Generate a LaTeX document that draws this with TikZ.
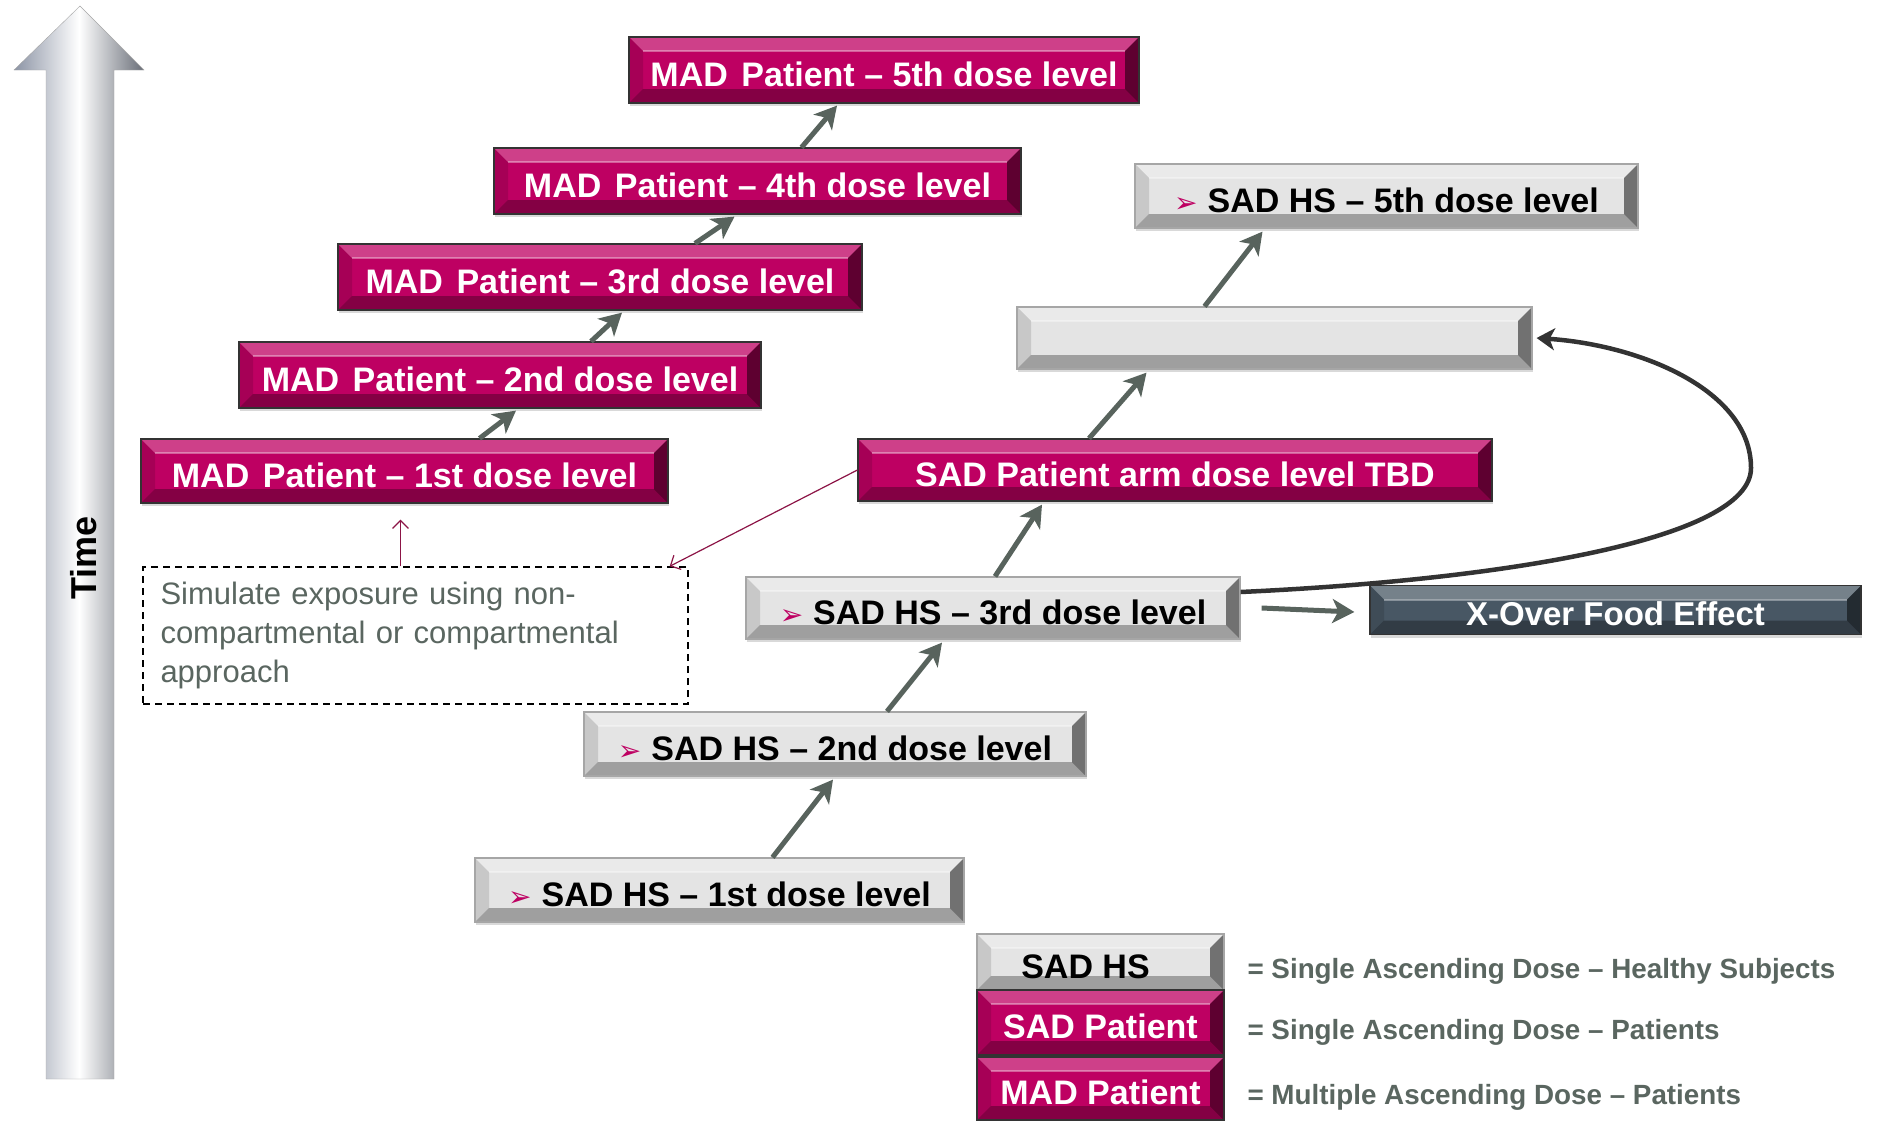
\documentclass[tikz,border=0pt]{standalone}
\usepackage{fontspec}
\setmainfont{Liberation Sans}
\newfontfamily\symfont{DejaVu Sans}
\usepackage{xcolor}
\usepackage{tikz}
\usetikzlibrary{shapes,arrows,arrows.meta,positioning,shadows}
\definecolor{madred}{RGB}{190, 0, 98}
\definecolor{hsgray}{RGB}{228, 228, 228}
\definecolor{xslate}{RGB}{72, 87, 100}
\definecolor{arrgray}{RGB}{88, 99, 93}
\definecolor{notegray}{RGB}{90, 102, 96}
\definecolor{linkred}{RGB}{140, 20, 70}
\definecolor{timeleft}{RGB}{140, 148, 165}
\definecolor{timeright}{RGB}{105, 110, 120}
\newcommand{\boxfont}{\fontsize{34}{38}\selectfont\bfseries}
\newcommand{\hsmark}{{\symfont\fontsize{28}{28}\selectfont\color{madred}➢}\hspace{10pt}}
\tikzstyle{bevel} = [path picture={
    \fill[white, opacity=0.25] (path picture bounding box.north west) -- (path picture bounding box.north east) -- ([xshift=-14pt,yshift=-14pt]path picture bounding box.north east) -- ([xshift=14pt,yshift=-14pt]path picture bounding box.north west) -- cycle;
    \fill[black, opacity=0.12] (path picture bounding box.north west) -- ([xshift=14pt,yshift=-14pt]path picture bounding box.north west) -- ([xshift=14pt,yshift=14pt]path picture bounding box.south west) -- (path picture bounding box.south west) -- cycle;
    \fill[black, opacity=0.5] (path picture bounding box.north east) -- (path picture bounding box.south east) -- ([xshift=-14pt,yshift=14pt]path picture bounding box.south east) -- ([xshift=-14pt,yshift=-14pt]path picture bounding box.north east) -- cycle;
    \fill[black, opacity=0.3] (path picture bounding box.south west) -- ([xshift=14pt,yshift=14pt]path picture bounding box.south west) -- ([xshift=-14pt,yshift=14pt]path picture bounding box.south east) -- (path picture bounding box.south east) -- cycle;
    \draw[white, opacity=0.35, line width=2pt] ([xshift=14pt,yshift=-14pt]path picture bounding box.north west) -- ([xshift=-14pt,yshift=-14pt]path picture bounding box.north east);
}]
\tikzstyle{madbox} = [rectangle, draw=black!80, line width=1.2pt, fill=madred, text=white, font=\boxfont, text height=32pt, text depth=0pt, minimum height=66pt, inner sep=0pt, bevel, drop shadow={opacity=0.3, shadow xshift=1pt, shadow yshift=-3pt}]
\tikzstyle{hsbox} = [madbox, draw=gray!70, fill=hsgray, text=black, minimum height=64pt]
\tikzstyle{foodbox} = [madbox, fill=xslate, minimum height=49pt, text height=31pt, font=\fontsize{33}{36}\selectfont\bfseries]
\tikzstyle{keytext} = [anchor=west, text=notegray, font=\fontsize{27.8}{32}\selectfont\bfseries]
\tikzstyle{line} = [draw=arrgray, line width=5pt, -{Stealth[length=22pt, width=24pt, inset=6pt]}]
\tikzstyle{link} = [draw=linkred, line width=1.2pt, -{Straight Barb[length=8pt, width=16pt]}]

\begin{document}
\begin{tikzpicture}[x=1pt, y=-1pt]
    \useasboundingbox (0,0) rectangle (1880,1120);

    \shade [left color=timeleft, right color=timeright, middle color=white, draw=gray!70] (46,1079) -- (46,70) -- (14,70) -- (80,6) -- (144,70) -- (114,70) -- (114,1079) -- cycle;
    \node [rotate=90, font=\fontsize{36}{40}\selectfont\bfseries] (timelbl) at (84,558) {Time};

    \node [madbox, minimum width=510pt] (mad5) at (884,70) {MAD\hspace{.4em}Patient – 5th dose level};
    \node [madbox, minimum width=527pt] (mad4) at (757.5,181) {MAD\hspace{.4em}Patient – 4th dose level};
    \node [madbox, minimum width=524pt] (mad3) at (600,277) {MAD\hspace{.4em}Patient – 3rd dose level};
    \node [madbox, minimum width=522pt] (mad2) at (500,375) {MAD\hspace{.4em}Patient – 2nd dose level};
    \node [madbox, minimum width=527pt, minimum height=64pt] (mad1) at (404.5,471) {MAD\hspace{.4em}Patient – 1st dose level};

    \node [hsbox, minimum width=503pt] (sad5) at (1386.5,196) {\hsmark SAD HS – 5th dose level};
    \node [hsbox, minimum width=515pt, minimum height=62pt] (sadnext) at (1274.5,338) {};
    \node [madbox, minimum width=634pt, minimum height=62pt] (sadpat) at (1175,470) {SAD Patient arm dose level TBD};
    \node [hsbox, minimum width=494pt, minimum height=62pt] (sad3) at (993,608) {\hsmark SAD HS – 3rd dose level};
    \node [foodbox, minimum width=491pt] (food) at (1615.5,610) {X-Over Food Effect};
    \node [hsbox, minimum width=502pt] (sad2) at (835,744) {\hsmark SAD HS – 2nd dose level};
    \node [hsbox, minimum width=489pt] (sad1) at (719.5,890) {\hsmark SAD HS – 1st dose level};

    \node [draw, dash pattern=on 7pt off 5pt, line width=1.4pt, minimum width=545pt, minimum height=137pt, text width=510pt, align=left, text=notegray, font=\fontsize{31}{39}\selectfont] (sim) at (415.5,635.5) {Simulate exposure using non-\\compartmental or compartmental\\approach};

    \node [hsbox, minimum width=247pt, minimum height=56pt, inner sep=0pt] (keyhs) at (1100.5,962) {\hspace{-30pt}SAD HS};
    \node [madbox, minimum width=247pt, minimum height=65pt] (keysad) at (1100.5,1022.5) {SAD Patient};
    \node [madbox, minimum width=247pt, minimum height=63pt] (keymad) at (1100.5,1088.5) {MAD Patient};
    \node [keytext] (keyhstxt) at (1244,971) {= Single Ascending Dose – Healthy Subjects};
    \node [keytext] (keysadtxt) at (1244,1032) {= Single Ascending Dose – Patients};
    \node [keytext] (keymadtxt) at (1244,1097) {= Multiple Ascending Dose – Patients};

    \path [line] ([xshift=53pt]sad1.north) -- ([xshift=-2pt,yshift=-3pt]sad2.south);
    \path [line] ([xshift=52pt]sad2.north) -- ([xshift=-51pt,yshift=-3pt]sad3.south);
    \path [line] ([xshift=2pt]sad3.north) -- ([xshift=-133pt,yshift=-3pt]sadpat.south);
    \path [line] ([xshift=-86pt]sadpat.north) -- ([xshift=-128pt,yshift=-3pt]sadnext.south);
    \path [line] ([xshift=-70pt]sadnext.north) -- ([xshift=-124pt,yshift=-3pt]sad5.south);
    \path [line] ([xshift=75pt]mad1.north) -- ([xshift=16pt,yshift=-2pt]mad2.south);
    \path [line] ([xshift=91pt]mad2.north) -- ([xshift=22pt,yshift=-2pt]mad3.south);
    \path [line] ([xshift=95pt]mad3.north) -- ([xshift=-23pt,yshift=-2pt]mad4.south);
    \path [line] ([xshift=44pt]mad4.north) -- ([xshift=-47pt,yshift=-2pt]mad5.south);
    \path [line] ([xshift=21pt]sad3.east) -- ([xshift=-15pt,yshift=-2pt]food.west);
    \draw [draw=black!80, line width=4.5pt, -{Stealth[length=18pt, width=22pt, inset=5pt]}] ([yshift=16pt]sad3.east) .. controls (1500,580) and (1751,540) .. (1751,468) .. controls (1751,390) and (1640,345) .. ([xshift=4pt]sadnext.east);

    \path [link] ([xshift=-15pt]sim.north) -- ([xshift=-4pt,yshift=-16pt]mad1.south);
    \path [link] (sadpat.west) -- ([xshift=-19pt]sim.north east);
\end{tikzpicture}
\end{document}
